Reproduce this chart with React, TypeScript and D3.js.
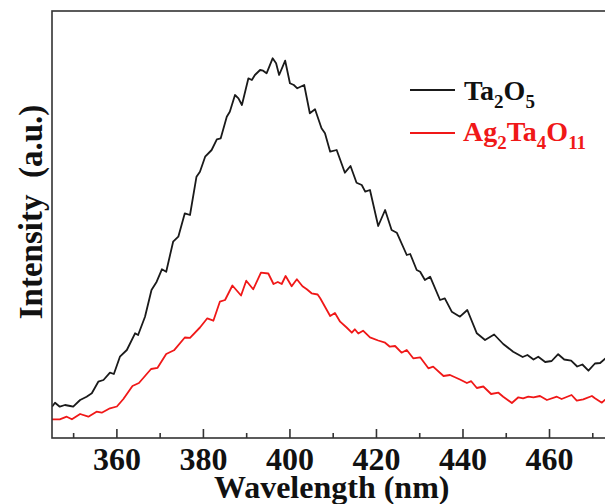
import React from "react";
import * as d3 from "d3";

// Photoluminescence spectra (wavelength in nm, intensity in arbitrary units)
const taWavelength = [
  345.0, 345.7, 346.8, 348.0, 349.2, 349.9, 351.5, 353.0, 354.2, 355.7, 356.9, 358.4, 359.3,
  360.7, 362.3, 364.2, 364.9, 366.5, 368.0, 369.2, 370.4, 371.4, 373.0, 374.2, 375.7, 376.9,
  378.4, 379.2, 380.4, 381.9, 383.1, 384.0, 385.4, 386.1, 387.3, 388.1, 388.9, 390.4, 391.2,
  391.9, 393.1, 393.8, 394.6, 396.0, 396.8, 397.5, 398.9, 400.0, 400.9, 401.7, 403.3, 404.6,
  405.8, 407.3, 408.1, 409.3, 410.8, 412.7, 414.0, 415.4, 416.6, 417.4, 418.5, 420.4, 422.0,
  423.5, 424.7, 427.0, 427.8, 429.3, 430.1, 431.2, 432.4, 434.7, 435.8, 437.4, 439.3, 441.0,
  443.2, 445.1, 447.2, 449.3, 451.6, 453.8, 454.9, 456.3, 457.4, 459.0, 460.5, 462.0, 463.4,
  465.0, 466.4, 467.6, 469.0, 470.5, 471.7, 472.8, 474.0,
];
const taIntensity = [
  31.3, 35.3, 31.3, 33, 32, 31.3, 38, 41.3, 44.7, 56.3, 58, 65.3, 64,
  81.3, 88, 104.7, 103, 121.3, 148, 156.3, 168.7, 166.3, 196.3, 201.3, 224.7, 223,
  261.3, 266.3, 281.3, 288, 298.7, 299.7, 321.3, 326.3, 343, 339.7, 333, 359.7, 358,
  363, 368, 367.3, 364.7, 379.7, 374.7, 363, 377.3, 354.7, 353, 349.7, 353, 324.7,
  328.7, 309.7, 304.7, 286.3, 288, 265.3, 272, 255.3, 253, 246.3, 248, 212, 228,
  208, 205.3, 183, 184, 168, 166.3, 158, 161.3, 138, 139.7, 126.3, 121.3, 128,
  104.7, 98, 103.5, 94, 86.3, 81, 83, 78.5, 81.3, 76, 77, 83.8, 78.5,
  77.3, 71.5, 73.5, 67.3, 74.5, 75, 79.2, 82,
];

const agWavelength = [
  345.0, 346.8, 348.4, 349.6, 351.5, 353.4, 355.3, 356.5, 358.4, 360.0, 361.5, 363.6, 365.1,
  367.9, 369.4, 371.4, 373.2, 375.7, 376.9, 379.2, 380.9, 382.3, 383.8, 385.0, 386.7, 388.7,
  389.9, 391.5, 393.3, 395.0, 396.2, 397.2, 398.1, 399.0, 400.4, 401.6, 402.9, 403.9, 405.0,
  406.4, 407.0, 409.3, 410.4, 411.6, 413.1, 414.3, 415.0, 415.8, 416.9, 418.5, 420.4, 422.0,
  423.1, 424.3, 425.8, 427.0, 428.5, 430.1, 432.0, 433.1, 435.5, 437.0, 439.3, 440.9, 441.9,
  443.2, 444.7, 446.5, 448.2, 449.3, 451.3, 452.8, 453.9, 455.1, 456.3, 457.8, 459.4, 461.7,
  462.8, 465.1, 466.3, 467.8, 469.8, 470.5, 472.1, 472.8, 474.0,
];
const agIntensity = [
  18.7, 18.7, 21.3, 18.7, 24, 21.3, 26.3, 25.3, 29.7, 31.5, 39, 52, 55,
  69, 70.2, 84, 87.7, 100.5, 100.2, 110.5, 119.7, 117.3, 136.3, 138, 152.5, 142.5,
  157.3, 148.7, 165.3, 164.5, 154, 156, 154, 162, 151.7, 158.7, 151.7, 148.7, 144.7,
  143.5, 139.7, 122, 125, 116.3, 110.5, 105.3, 108.7, 104.5, 107.3, 100.7, 97.5, 95.3,
  91.3, 92, 85.3, 88, 79.7, 80.7, 69.7, 71.3, 62, 63, 58.5, 55, 56.8,
  50, 51.5, 44, 45.3, 41.3, 35, 40.7, 39.7, 41.3, 40.7, 42, 38, 41.3,
  39, 43, 37.3, 38.7, 42, 39.7, 35.3, 38, 39,
];

const majorTicks = [360, 380, 400, 420, 440, 460];
const minorTicks = [350, 370, 390, 410, 430, 450, 470];
const tickLabels = ["360", "380", "400", "420", "440", "460"];

const W = 605;
const H = 504;
const left = 52;
const top = 11;
const bottom = 438;
const right = 614.4;

const FONT = "'Liberation Serif', 'Times New Roman', serif";

export default function App() {
  const x = d3.scaleLinear().domain([345, 475]).range([left, right]);
  const y = d3.scaleLinear().domain([0, 427]).range([bottom, top]);

  const line = d3
    .line<[number, number]>()
    .x((d) => x(d[0]))
    .y((d) => y(d[1]))
    .curve(d3.curveLinear);

  const taPts = taWavelength.map((w, i) => [w, taIntensity[i]] as [number, number]);
  const agPts = agWavelength.map((w, i) => [w, agIntensity[i]] as [number, number]);

  return (
    <svg
      width={W}
      height={H}
      style={{ position: "absolute", left: 0, top: 0, background: "#fff" }}
      fontFamily={FONT}
    >
      <defs>
        <clipPath id="plot-clip">
          <rect x={left} y={top} width={right - left} height={bottom - top} />
        </clipPath>
      </defs>

      <g clipPath="url(#plot-clip)" fill="none" strokeLinejoin="round">
        <path d={line(taPts) ?? ""} stroke="#1a1a1a" strokeWidth={1.8} />
        <path d={line(agPts) ?? ""} stroke="#f01818" strokeWidth={1.8} />
      </g>

      {/* frame */}
      <rect
        x={left}
        y={top}
        width={right - left}
        height={bottom - top}
        fill="none"
        stroke="#333"
        strokeWidth={1.6}
      />

      {/* inward ticks on the wavelength axis */}
      <g stroke="#333" strokeWidth={1.6}>
        {majorTicks.map((t) => (
          <line key={"M" + t} x1={x(t)} x2={x(t)} y1={bottom} y2={bottom - 9} />
        ))}
        {minorTicks.map((t) => (
          <line key={"m" + t} x1={x(t)} x2={x(t)} y1={bottom} y2={bottom - 5} />
        ))}
      </g>

      <g fontWeight="bold" fontSize={32} textAnchor="middle" fill="#111">
        {majorTicks.map((t, i) => (
          <text key={"l" + t} x={x(t)} y={470}>
            {tickLabels[i]}
          </text>
        ))}
      </g>

      <text
        x={331.7}
        y={497.5}
        textAnchor="middle"
        fontWeight="bold"
        fontSize={32}
        fill="#111"
      >
        Wavelength (nm)
      </text>

      <text
        transform="translate(42,212) rotate(-90)"
        textAnchor="middle"
        fontWeight="bold"
        fontSize={33}
        fill="#111"
        style={{ whiteSpace: "pre" }}
      >
        {"Intensity  (a.u.)"}
      </text>

      {/* legend */}
      <line x1={410} x2={455} y1={90} y2={90} stroke="#1a1a1a" strokeWidth={1.8} />
      <text x={464} y={100} fontWeight="bold" fontSize={28} fill="#111">
        Ta
        <tspan dy={8} fontSize={19}>2</tspan>
        <tspan dy={-8}>O</tspan>
        <tspan dy={8} fontSize={19}>5</tspan>
      </text>
      <line x1={410} x2={455} y1={133} y2={133} stroke="#f01818" strokeWidth={1.8} />
      <text x={463} y={141} fontWeight="bold" fontSize={28} fill="#f01818">
        Ag
        <tspan dy={8} fontSize={19}>2</tspan>
        <tspan dy={-8}>Ta</tspan>
        <tspan dy={8} fontSize={19}>4</tspan>
        <tspan dy={-8}>O</tspan>
        <tspan dy={8} fontSize={19}>11</tspan>
      </text>
    </svg>
  );
}
